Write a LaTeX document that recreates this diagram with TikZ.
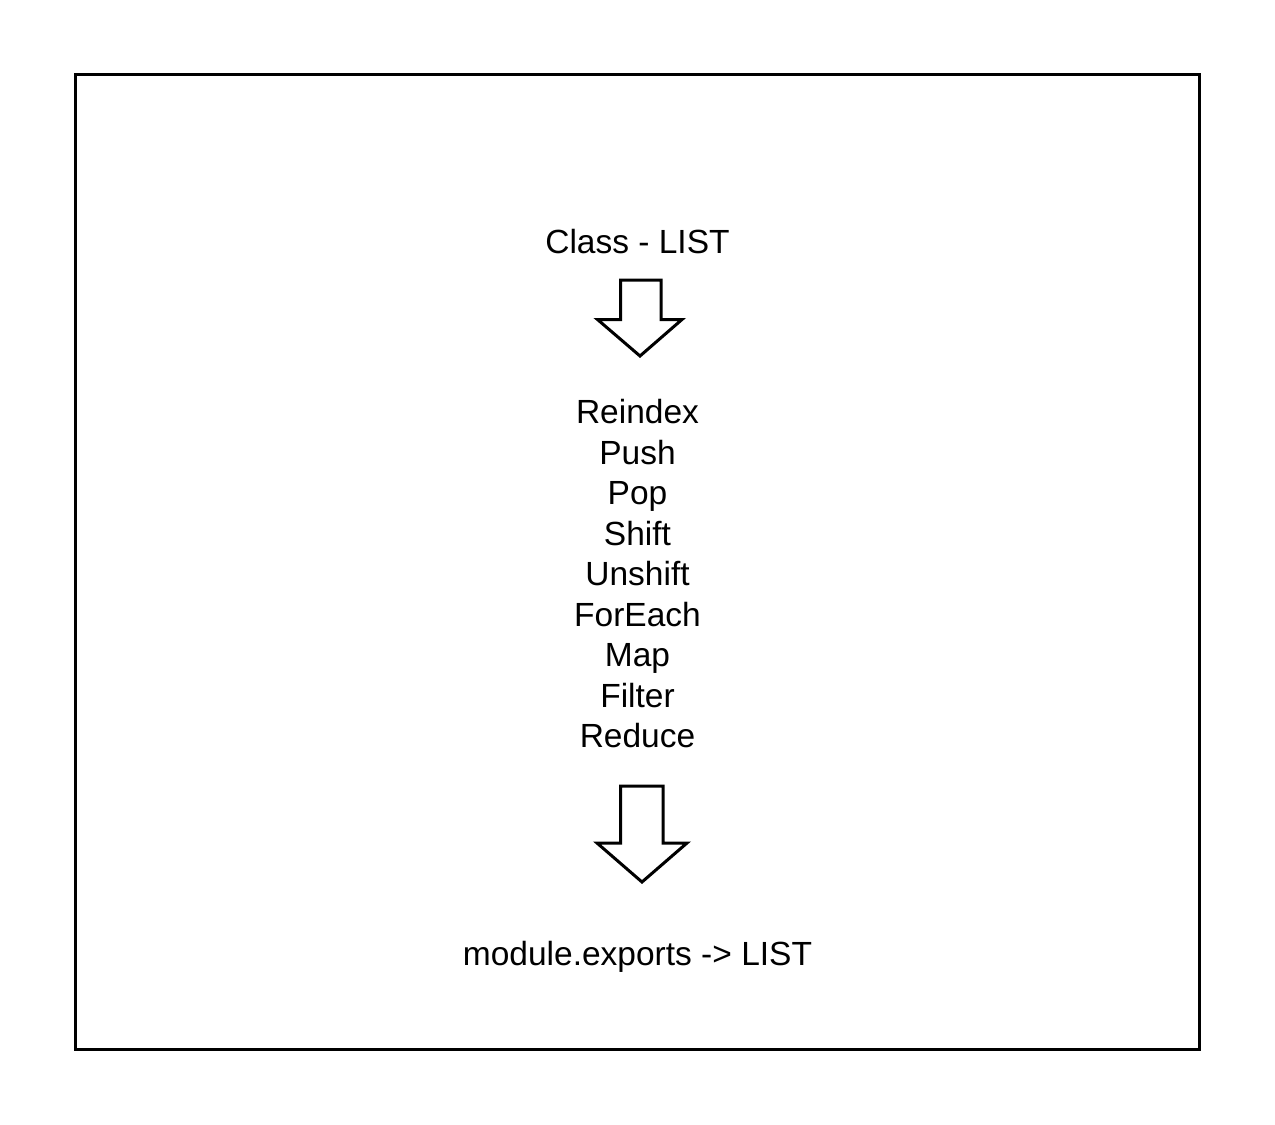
\documentclass[tikz,border=0pt]{standalone}
\usepackage{fontspec}
\setmainfont{Liberation Sans}
\begin{document}
\begin{tikzpicture}[x=0.5pt,y=-0.5pt,
  lbl/.style={anchor=base,inner sep=0pt,font=\fontsize{16.75}{20}\selectfont},
  blockarrow/.style={draw,line width=1.5pt,line join=miter,fill=white},
  frame/.style={draw,line width=1.5pt}]
\useasboundingbox (0,0) rectangle (1275,1125);
\draw[frame] (75,74.5) rectangle (1199,1049);
\node[lbl] (cls) at (637.5,253) {Class - LIST};
\foreach \t [count=\i] in {Reindex,Push,Pop,Shift,Unshift,ForEach,Map,Filter,Reduce}
  \node[lbl] (m\i) at (637.5,{423.5+(\i-1)*40.5}) {\t};
\node[lbl] (exp) at (637.5,965) {module.exports -> LIST};
\draw[blockarrow] (620.5,280) -- (661,280) -- (661,319.5) -- (682,319.5) -- (640,356) -- (597.5,319.5) -- (620.5,319.5) -- cycle;
\draw[blockarrow] (620.5,786) -- (663,786) -- (663,843) -- (687,843) -- (642,882) -- (597,843) -- (620.5,843) -- cycle;
\end{tikzpicture}
\end{document}
